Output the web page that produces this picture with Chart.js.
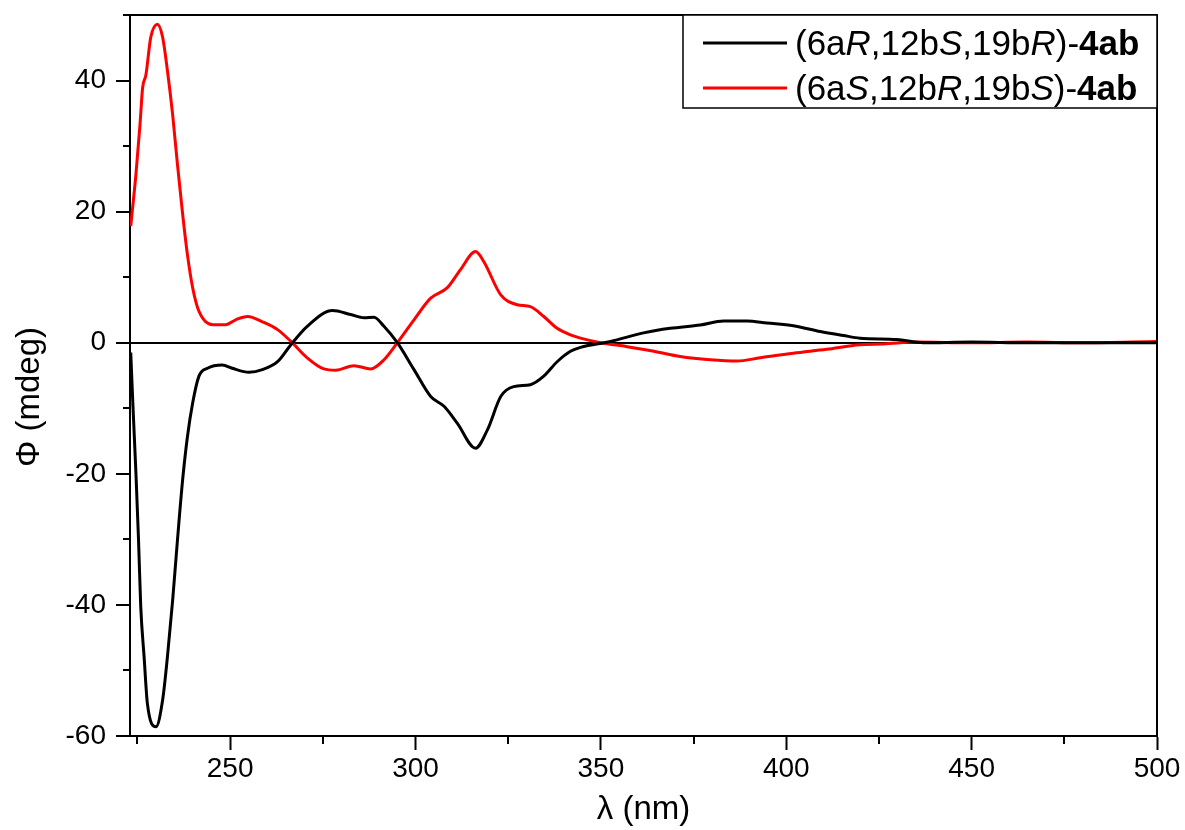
<!DOCTYPE html>
<html>
<head>
<meta charset="utf-8">
<script src="https://cdn.jsdelivr.net/npm/chart.js@4/dist/chart.umd.min.js"></script>
<style>
  body { margin: 0; background: #fff; }
  #wrap { width: 1185px; height: 830px; position: relative; }
</style>
</head>
<body>
<div id="wrap"><canvas id="cd"></canvas></div>
<script>
// wavelength (nm) and ellipticity (mdeg)
const blackWl = [223.2, 223.8, 224.6, 225.3, 225.9, 226.8, 227.7, 230.0, 231.8, 233.1, 234.5, 235.8, 237.2, 238.5, 239.9, 241.6, 243.9, 247.9, 250.6, 255.1, 258.7, 262.8, 266.4, 270.8, 277.6, 282.5, 286.1, 288.8, 291.5, 295.1, 299.6, 304.1, 307.7, 311.3, 316.2, 319.4, 323.0, 326.5, 331.0, 334.6, 338.2, 341.8, 344.5, 352.6, 361.5, 368.7, 376.8, 383.1, 389.4, 394.8, 401.9, 409.2, 415.4, 419.9, 429.8, 437, 450, 465, 480, 500];
const blackPhi = [-1.5, -9.7, -19.9, -30.1, -40.3, -47.9, -55.1, -58.6, -54.5, -47.9, -39.3, -30.1, -20.9, -14.3, -9.2, -5.1, -3.9, -3.4, -3.9, -4.5, -4.1, -2.9, -0.3, 2.5, 4.9, 4.3, 3.8, 3.9, 2.5, 0, -4.1, -8.2, -9.7, -12.3, -16.1, -13.3, -8.2, -6.7, -6.4, -5.1, -2.9, -1.3, -0.7, 0.2, 1.5, 2.2, 2.7, 3.3, 3.3, 3.0, 2.6, 1.7, 1.1, 0.7, 0.5, 0, 0.1, 0, 0, 0];

const redWl = [223.2, 224.6, 225.7, 226.4, 227.3, 228.6, 230.4, 231.8, 233.1, 234.5, 235.8, 237.2, 238.5, 239.9, 241.6, 245.3, 248.8, 251.5, 254.7, 258.7, 262.8, 266.4, 270.8, 275.3, 278.5, 283.4, 287.9, 291.5, 295.1, 299.6, 304.1, 308.6, 312.2, 316.2, 318.4, 323.0, 327.4, 331.0, 334.6, 338.2, 341.8, 344.5, 349.9, 357.1, 364.3, 371.4, 379.5, 386.7, 393, 401.9, 410.9, 419.9, 426.2, 435, 450, 465, 480, 500];
const redPhi = [17.8, 25.7, 33.3, 38.9, 40.9, 46.6, 48.6, 46.6, 41.5, 34.8, 27.2, 19.6, 13.4, 8.4, 4.8, 2.75, 2.75, 3.5, 4.0, 3.2, 2.0, 0.2, -2.3, -4.0, -4.2, -3.5, -4.0, -2.6, 0, 3.5, 6.8, 8.4, 11.2, 13.9, 12.4, 7.3, 5.8, 5.5, 4.0, 2.2, 1.2, 0.7, 0, -0.6, -1.3, -2.1, -2.6, -2.8, -2.3, -1.6, -1.0, -0.3, -0.2, 0.1, 0, 0.1, 0, 0.2];

const seriesNames = ["(6aR,12bS,19bR)-4ab", "(6aS,12bR,19bS)-4ab"];
// legend pieces: [text, style]  n = normal, i = italic, b = bold
const legendRuns = [
  [["(6a", "n"], ["R", "i"], [",12b", "n"], ["S", "i"], [",19b", "n"], ["R", "i"], [")-", "n"], ["4ab", "b"]],
  [["(6a", "n"], ["S", "i"], [",12b", "n"], ["R", "i"], [",19b", "n"], ["S", "i"], [")-", "n"], ["4ab", "b"]]
];
const seriesColors = ["#000000", "#ff0000"];
const xMinorTicks = [225, 275, 325, 375, 425, 475];
const yMinorTicks = [-50, -30, -10, 10, 30, 50];
const yTitle = "Φ (mdeg)";

const FONT = "'Liberation Sans', Arial, sans-serif";

function toPoints(xs, ys) {
  return xs.map((x, i) => ({ x, y: ys[i] }));
}

// frame, minor ticks, y title and the boxed legend
const extras = {
  id: "extras",
  afterDraw(chart) {
    const { ctx, chartArea: a } = chart;
    const xs = chart.scales.x, ys = chart.scales.y;
    ctx.save();
    ctx.strokeStyle = "#000";
    ctx.lineWidth = 2;
    ctx.beginPath();
    ctx.moveTo(a.left, a.top);
    ctx.lineTo(a.right, a.top);
    ctx.lineTo(a.right, a.bottom);
    ctx.stroke();

    ctx.beginPath();
    xMinorTicks.forEach(v => {
      const px = Math.round(xs.getPixelForValue(v));
      ctx.moveTo(px, a.bottom);
      ctx.lineTo(px, a.bottom + 8);
    });
    yMinorTicks.forEach(v => {
      const py = Math.round(ys.getPixelForValue(v));
      ctx.moveTo(a.left, py);
      ctx.lineTo(a.left - 7, py);
    });
    ctx.stroke();

    // y title sits a little below the middle of the axis, as in the original
    ctx.save();
    ctx.translate(30, 397);
    ctx.rotate(-Math.PI / 2);
    ctx.fillStyle = "#000";
    ctx.font = "33px " + FONT;
    ctx.textAlign = "center";
    ctx.textBaseline = "middle";
    ctx.fillText(yTitle, 0, 0);
    ctx.restore();

    // legend box
    const bx = 683, by = a.top, bw = a.right - bx, bh = 93;
    ctx.fillStyle = "#fff";
    ctx.fillRect(bx, by, bw, bh);
    ctx.lineWidth = 1.5;
    ctx.strokeRect(bx, by, bw, bh);

    const rowY = [by + 28, by + 73];
    legendRuns.forEach((runs, i) => {
      ctx.strokeStyle = seriesColors[i];
      ctx.lineWidth = 3;
      ctx.beginPath();
      ctx.moveTo(703, rowY[i]);
      ctx.lineTo(787, rowY[i]);
      ctx.stroke();

      let tx = 795;
      ctx.fillStyle = "#000";
      ctx.textBaseline = "alphabetic";
      runs.forEach(([txt, st]) => {
        const pre = st === "i" ? "italic " : st === "b" ? "bold " : "";
        ctx.font = pre + "35px " + FONT;
        ctx.fillText(txt, tx, rowY[i] + 12);
        tx += ctx.measureText(txt).width;
      });
    });
    ctx.restore();
  }
};

new Chart(document.getElementById("cd"), {
  type: "line",
  data: {
    datasets: [
      {
        label: seriesNames[0],
        data: toPoints(blackWl, blackPhi),
        borderColor: seriesColors[0],
        borderWidth: 3,
        pointRadius: 0,
        cubicInterpolationMode: "monotone"
      },
      {
        label: seriesNames[1],
        data: toPoints(redWl, redPhi),
        borderColor: seriesColors[1],
        borderWidth: 3,
        pointRadius: 0,
        cubicInterpolationMode: "monotone"
      }
    ]
  },
  options: {
    responsive: true,
    maintainAspectRatio: false,
    animation: false,
    devicePixelRatio: 1,
    layout: { padding: { top: 15, right: 28, left: 0, bottom: 0 } },
    plugins: { legend: { display: false }, tooltip: { enabled: false } },
    scales: {
      x: {
        type: "linear",
        min: 223,
        max: 500,
        afterFit: s => { s.height = 94; s.paddingLeft = 0; s.paddingRight = 0; },
        border: { color: "#000", width: 2 },
        grid: { drawOnChartArea: false, tickLength: 14, tickWidth: 2, tickColor: "#000" },
        ticks: {
          stepSize: 50,
          includeBounds: false,
          color: "#000",
          padding: 2,
          maxRotation: 0,
          font: { family: FONT, size: 28 }
        },
        title: {
          display: true,
          text: "λ (nm)",
          color: "#000",
          padding: { top: 0, bottom: 0 },
          font: { family: FONT, size: 33 }
        }
      },
      y: {
        min: -60,
        max: 50,
        afterFit: s => { s.width = 130; s.paddingTop = 0; s.paddingBottom = 0; },
        border: { color: "#000", width: 2 },
        grid: {
          drawOnChartArea: true,
          color: c => (c.tick && c.tick.value === 0 ? "#000" : "rgba(0,0,0,0)"),
          lineWidth: 2,
          tickLength: 14,
          tickWidth: 2,
          tickColor: "#000"
        },
        ticks: {
          stepSize: 20,
          includeBounds: false,
          color: "#000",
          padding: 10,
          font: { family: FONT, size: 28 }
        }
      }
    }
  },
  plugins: [extras]
});
</script>
</body>
</html>
